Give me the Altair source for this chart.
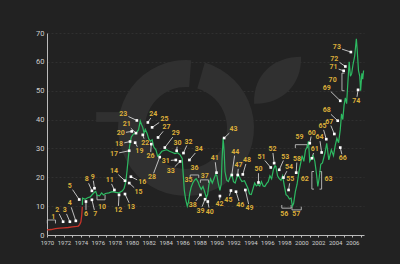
import math
import altair as alt
import pandas as pd

# ---------------- data ----------------
red_years = [1970.0, 1970.5, 1971.0, 1971.5, 1972.0, 1972.5, 1973.0, 1973.5, 1973.7, 1973.85, 1974.0, 1974.1, 1974.17]
red_values = [1.8, 1.9, 2.2, 2.4, 2.5, 2.6, 2.8, 3.0, 3.1, 3.6, 4.6, 6.9, 9.8]

green_years = [
    1974.17, 1974.2, 1974.5, 1974.8, 1975.1, 1975.4, 1975.6, 1975.75, 1975.9, 1976.2,
    1976.45, 1976.65, 1976.9, 1977.3, 1977.7, 1978.1, 1978.5, 1978.9, 1979.1, 1979.3,
    1979.45, 1979.6, 1979.75, 1979.95, 1980.2, 1980.5, 1980.8, 1981.0, 1981.15, 1981.3,
    1981.45, 1981.6, 1981.8, 1982.0, 1982.2, 1982.4, 1982.6, 1982.85, 1983.05, 1983.3,
    1983.55, 1983.8, 1984.1, 1984.45, 1984.8, 1985.1, 1985.4, 1985.7, 1985.95, 1986.05,
    1986.2, 1986.35, 1986.55, 1986.7, 1986.85, 1987.0, 1987.2, 1987.4, 1987.6, 1987.8,
    1988.0, 1988.2, 1988.4, 1988.6, 1988.8, 1988.95, 1989.1, 1989.3, 1989.5, 1989.7,
    1989.9, 1990.05, 1990.2, 1990.4, 1990.55, 1990.65, 1990.78, 1990.9, 1991.0, 1991.2,
    1991.4, 1991.6, 1991.8, 1992.0, 1992.2, 1992.4, 1992.6, 1992.8, 1993.0, 1993.3,
    1993.5, 1993.7, 1993.9, 1994.1, 1994.3, 1994.5, 1994.7, 1994.9, 1995.1, 1995.3,
    1995.5, 1995.7, 1995.9, 1996.1, 1996.3, 1996.5, 1996.7, 1996.9, 1997.0, 1997.2,
    1997.4, 1997.6, 1997.8, 1998.0, 1998.2, 1998.4, 1998.6, 1998.8, 1998.95, 1999.1,
    1999.3, 1999.5, 1999.7, 1999.9, 2000.1, 2000.3, 2000.5, 2000.7, 2000.85, 2001.0,
    2001.2, 2001.4, 2001.6, 2001.8, 2001.95, 2002.1, 2002.3, 2002.5, 2002.8, 2003.0,
    2003.25, 2003.55, 2003.8, 2004.0, 2004.2, 2004.4, 2004.6, 2004.75, 2004.9, 2005.05,
    2005.2, 2005.35, 2005.5, 2005.65, 2005.8, 2005.95, 2006.1, 2006.3, 2006.5, 2006.6,
    2006.75, 2006.9, 2007.0, 2007.15, 2007.25, 2007.35,
]
green_values = [
    10.4, 12.8, 12.4, 12.9, 13.2, 14.2, 14.8, 15.1, 13.8, 13.6,
    14.6, 13.9, 14.4, 14.6, 15.0, 14.8, 14.6, 15.3, 16.2, 18.5,
    22.5, 27.0, 31.0, 34.0, 35.0, 35.2, 36.5, 39.5, 38.3, 37.3,
    35.3, 36.6, 35.3, 33.3, 32.5, 33.0, 30.5, 29.5, 27.3, 28.0,
    29.0, 29.3, 29.6, 29.0, 28.6, 28.2, 28.5, 27.8, 26.5, 22.0,
    15.5, 12.5, 10.0, 11.5, 14.5, 16.5, 18.0, 19.0, 19.5, 18.5,
    17.0, 15.8, 16.8, 15.0, 13.0, 14.0, 17.5, 19.5, 18.0, 19.5,
    21.0, 20.5, 18.0, 15.5, 17.5, 26.0, 33.5, 29.0, 22.0, 19.0,
    18.5, 20.0, 21.0, 18.5, 18.0, 20.0, 20.8, 19.5, 18.5, 18.8,
    17.5, 16.2, 14.2, 14.0, 16.0, 18.0, 17.0, 17.5, 17.0, 18.5,
    17.0, 16.8, 17.8, 18.5, 20.5, 19.5, 22.5, 24.0, 23.8, 20.5,
    19.5, 19.0, 20.5, 17.0, 14.0, 13.5, 12.5, 12.8, 10.0, 11.0,
    15.0, 17.5, 21.5, 24.5, 27.5, 25.5, 29.5, 30.5, 32.5, 25.5,
    26.5, 27.5, 25.5, 21.0, 16.8, 19.5, 24.5, 25.0, 28.5, 31.8,
    26.0, 29.5, 27.5, 31.0, 33.5, 32.0, 36.5, 42.0, 40.0, 45.0,
    47.5, 45.5, 53.0, 60.0, 55.0, 56.0, 59.0, 62.0, 68.0, 64.0,
    57.0, 55.0, 50.0, 56.0, 54.0, 57.0,
]

# numbered notes with a leader: label position and pointed position
ann_ids = [2, 3, 4, 5, 6, 7, 8, 9, 11, 12, 13, 14, 15, 16, 17, 18, 19, 20, 21, 22,
           23, 24, 25, 26, 27, 28, 29, 30, 31, 32, 33, 34, 38, 39, 40, 41, 42, 43, 44, 45,
           46, 47, 48, 49, 50, 51, 52, 53, 54, 55, 58, 60, 61, 64, 65, 66, 67, 68, 69, 71,
           72, 73, 74]
ann_label_yr = [1971.2, 1972.1, 1972.7, 1972.7, 1974.6, 1975.7, 1974.7, 1975.4, 1977.4, 1978.4,
                1979.9, 1977.9, 1980.8, 1981.25, 1977.9, 1978.5, 1980.9, 1978.7, 1979.4, 1981.6,
                1979.0, 1982.55, 1983.85, 1982.2, 1984.1, 1982.4, 1985.2, 1985.4, 1984.0, 1986.7,
                1984.6, 1987.9, 1987.2, 1988.1, 1989.2, 1989.8, 1990.35, 1992.0, 1992.2, 1991.4,
                1992.8, 1992.6, 1993.6, 1993.9, 1994.95, 1995.3, 1996.6, 1998.1, 1998.55, 1998.7,
                1999.5, 2001.25, 2001.6, 2002.15, 2002.5, 2004.9, 2003.3, 2003.0, 2003.0, 2003.8,
                2003.9, 2004.2, 2006.5]
ann_label_val = [8.7, 8.7, 11.0, 17.1, 7.3, 7.3, 19.3, 20.2, 19.1, 8.7,
                 9.8, 22.3, 15.0, 18.2, 28.1, 31.5, 29.2, 35.3, 38.4, 32.0,
                 41.9, 41.9, 40.2, 27.4, 37.3, 20.0, 35.3, 32.0, 25.7, 32.4,
                 22.3, 29.8, 10.4, 8.4, 8.1, 26.6, 10.8, 36.7, 28.9, 12.2,
                 10.4, 24.3, 26.0, 9.3, 22.8, 27.2, 29.8, 27.2, 23.5, 19.3,
                 26.5, 35.5, 29.8, 33.9, 37.8, 26.6, 39.3, 43.2, 51.1, 58.1,
                 61.1, 65.0, 46.5]
ann_point_yr = [1971.9, 1972.7, 1973.4, 1973.8, 1974.6, 1975.3, 1975.3, 1975.6, 1977.95, 1978.5,
                1979.2, 1979.2, 1979.7, 1979.9, 1979.7, 1979.8, 1980.4, 1980.0, 1980.5, 1981.3,
                1980.6, 1981.9, 1982.4, 1982.3, 1983.1, 1983.3, 1983.9, 1985.3, 1985.2, 1986.1,
                1985.7, 1986.8, 1988.1, 1988.65, 1988.97, 1990.0, 1990.4, 1990.9, 1991.8, 1991.7,
                1992.3, 1992.5, 1993.1, 1993.4, 1994.95, 1996.4, 1996.8, 1997.4, 1997.9, 1998.5,
                1999.4, 2001.0, 2001.25, 2002.4, 2002.95, 2004.6, 2003.9, 2004.3, 2004.6, 2005.0,
                2005.2, 2005.85, 2006.7]
ann_point_val = [4.6, 4.6, 4.9, 12.3, 11.6, 12.2, 15.3, 16.2, 15.6, 13.9,
                 14.2, 18.8, 18.0, 20.2, 29.2, 32.4, 32.0, 35.9, 35.3, 34.7,
                 39.7, 39.0, 37.3, 31.5, 33.8, 27.0, 30.3, 29.2, 26.0, 28.4,
                 25.5, 26.0, 13.9, 12.4, 11.6, 21.6, 13.5, 33.6, 20.8, 15.4,
                 15.0, 20.8, 21.0, 15.6, 18.2, 23.4, 24.9, 22.6, 19.9, 15.6,
                 21.6, 31.8, 26.6, 28.6, 33.2, 30.3, 35.0, 39.6, 46.5, 56.9,
                 58.4, 63.4, 50.3]

# numbered notes marking a period (bracket, no leader)
tag_ids = [1, 10, 35, 36, 37, 56, 57, 59, 62, 63, 70]
tag_yr = [1970.75, 1976.5, 1986.7, 1987.4, 1988.6, 1998.0, 1999.4, 1999.8, 2000.4, 2003.2, 2003.7]
tag_val = [6.4, 9.8, 19.1, 23.1, 20.5, 7.3, 7.3, 33.9, 19.3, 19.3, 53.6]

# brackets: "h" = horizontal bar (xa..xb at ya, legs to yb); "v" = vertical bar (at xa, ya..yb, ticks to xb)
bracket_ids = [1, 10, 36, 37, 56, 57, 59, 62, 63, 70]
bracket_kind = ["h", "h", "h", "h", "h", "h", "h", "v", "v", "v"]
bracket_xa = [1970.04, 1975.9, 1986.9, 1988.1, 1997.7, 1998.9, 1999.3, 2001.25, 2002.4, 2004.8]
bracket_xb = [1971.0, 1976.85, 1987.9, 1989.05, 1998.8, 2000.0, 2000.7, 2001.5, 2002.15, 2005.1]
bracket_ya = [5.2, 12.2, 20.8, 19.1, 9.3, 8.7, 31.3, 22.0, 22.0, 56.1]
bracket_yb = [4.0, 13.9, 19.8, 18.1, 10.4, 9.8, 30.1, 15.9, 15.9, 50.0]

y_ticks = [0, 10, 20, 30, 40, 50, 60, 70]
x_ticks = list(range(1970, 2008))

# ---------------- layout ----------------
X_MIN, X_MAX = 1970, 2007.4
Y_MIN, Y_MAX = 0, 70
W, H = 317, 202
BG = "#222222"
GOLD = "#dcae3a"
WHITE = "#e6e6e6"
WM = "#303030"

xs = alt.Scale(domain=[X_MIN, X_MAX], nice=False, zero=False)
ys = alt.Scale(domain=[Y_MIN, Y_MAX], nice=False)

x_axis = alt.Axis(values=x_ticks, labelExpr="datum.value % 2 == 0 ? toString(datum.value) : ''",
                  labelOverlap=False, grid=False, tickSize=2, tickColor="#bbbbbb",
                  domainColor="#bbbbbb", labelColor="#d0d0d0", labelFontSize=6,
                  labelFont="Roboto", labelPadding=2, labelFlush=False, title=None)
y_axis = alt.Axis(values=y_ticks, grid=True, gridColor="#3a3a3a", gridDash=[2, 2],
                  gridWidth=0.6, ticks=False, domainColor="#bbbbbb", labelColor="#d0d0d0",
                  labelFontSize=7.5, labelFont="Roboto", labelPadding=3, labelOverlap=False,
                  labelFlush=False, title=None)


def X(field="yr"):
    return alt.X(f"{field}:Q", scale=xs, axis=x_axis, title=None)


def Y(field="val"):
    return alt.Y(f"{field}:Q", scale=ys, axis=y_axis, title=None)


red_df = pd.DataFrame({"yr": red_years, "val": red_values})
green_df = pd.DataFrame({"yr": green_years, "val": green_values})

# leaders start a little away from the label text
px_x = W / (X_MAX - X_MIN)
px_y = H / (Y_MAX - Y_MIN)
lead_rows = []
for i, lx, ly, mx, my in zip(ann_ids, ann_label_yr, ann_label_val, ann_point_yr, ann_point_val):
    dx = (mx - lx) * px_x
    dy = (my - ly) * px_y
    d = math.hypot(dx, dy) or 1.0
    ux, uy = dx / d, dy / d
    r = min(5.2 / abs(ux) if abs(ux) > 1e-6 else 1e9, 4.0 / abs(uy) if abs(uy) > 1e-6 else 1e9)
    r = min(r, d * 0.6)
    lead_rows.append({"id": i, "x": lx + ux * r / px_x, "y": ly + uy * r / px_y, "x2": mx, "y2": my})
lead_df = pd.DataFrame(lead_rows)

point_df = pd.DataFrame({"id": ann_ids, "yr": ann_point_yr, "val": ann_point_val})
label_df = pd.DataFrame({
    "id": [str(i) for i in ann_ids + tag_ids],
    "yr": ann_label_yr + tag_yr,
    "val": ann_label_val + tag_val,
})

br_rows = []
for i, k, xa, xb, ya, yb in zip(bracket_ids, bracket_kind, bracket_xa, bracket_xb, bracket_ya, bracket_yb):
    if k == "h":
        pts = [(xa, yb), (xa, ya), (xb, ya), (xb, yb)]
    else:
        pts = [(xb, ya), (xa, ya), (xa, yb), (xb, yb)]
    for o, (px, py) in enumerate(pts):
        br_rows.append({"id": i, "o": o, "yr": px, "val": py})
br_df = pd.DataFrame(br_rows)

# ---------------- layers ----------------
axes_layer = alt.Chart(green_df).mark_line(opacity=0).encode(x=X(), y=Y())

# faint logo watermark (ring, bar and leaf)
wm_ring = alt.Chart(pd.DataFrame({"yr": [1986.4], "val": [37.1]})).mark_arc(
    color=WM, radius=41, radius2=68, theta=0.28, theta2=6.36
).encode(x=X(), y=Y())

wm_bar = alt.Chart(pd.DataFrame({"yr": [1975.8], "yr2": [1979.0], "val": [42.6], "val2": [39.2]})).mark_rect(
    color=WM
).encode(x=X(), x2="yr2:Q", y=Y(), y2="val2:Q")

leaf_path = "M -1 1 C -1.05 -0.25 -0.15 -1 1 -1 C 1.05 0.2 0.15 1.05 -1 1 Z"
wm_leaf = alt.Chart(pd.DataFrame({"yr": [1997.2], "val": [53.6]})).mark_point(
    shape=leaf_path, size=2200, filled=True, color=WM, opacity=1
).encode(x=X(), y=Y())

leaders = alt.Chart(lead_df).mark_rule(color=WHITE, strokeWidth=0.8).encode(
    x=X("x"), y=Y("y"), x2="x2:Q", y2="y2:Q")

brackets = alt.Chart(br_df).mark_line(color="#bdbdbd", strokeWidth=0.9).encode(
    x=X(), y=Y(), detail="id:N", order="o:Q")

red_line = alt.Chart(red_df).mark_line(color="#c8342a", strokeWidth=1.3).encode(x=X(), y=Y())
green_line = alt.Chart(green_df).mark_line(color="#2dba62", strokeWidth=1.2).encode(x=X(), y=Y())

points = alt.Chart(point_df).mark_point(shape="square", size=7, filled=True, color="#ffffff", opacity=1).encode(
    x=X(), y=Y())

labels = alt.Chart(label_df).mark_text(color=GOLD, font="Roboto", fontSize=7, fontWeight="bold",
                                       align="center", baseline="middle").encode(
    x=X(), y=Y(), text="id:N")

chart = alt.layer(axes_layer, wm_ring, wm_bar, wm_leaf, leaders, brackets, red_line, green_line,
                  points, labels).properties(
    width=W, height=H,
    background=BG,
    padding={"left": 47, "top": 33, "right": 36, "bottom": 29},
    autosize=alt.AutoSizeParams(type="none"),
).configure_view(stroke=None)

chart.save("out.html", embed_options={"renderer": "svg", "actions": False})
